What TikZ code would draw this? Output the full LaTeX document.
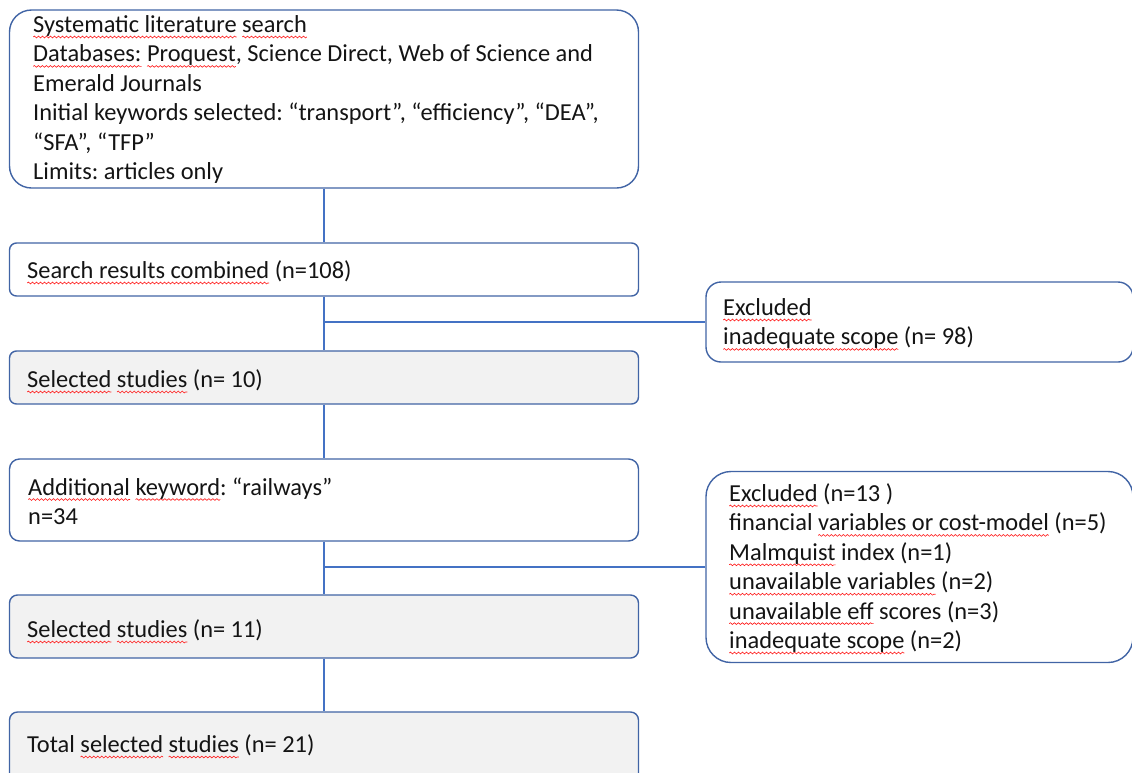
\documentclass[tikz,border=0pt]{standalone}
\usepackage{fontspec}
\setmainfont{Carlito}
\usetikzlibrary{calc,decorations.pathmorphing}
\definecolor{boxline}{RGB}{65,100,165}
\definecolor{connline}{RGB}{68,114,196}
\definecolor{boxgray}{RGB}{242,242,242}
\definecolor{txtcol}{RGB}{20,20,20}
\frenchspacing
\newsavebox\sqbox
\newlength\sqlen
\newcommand\sq[1]{\sbox\sqbox{#1}\setlength\sqlen{\wd\sqbox}%
\rlap{\tikz[baseline=0pt,x=1pt,y=1pt]{\path (0,0); \draw[overlay, red!90!white, line width=0.6pt, decorate, decoration={snake, amplitude=0.9pt, segment length=4pt}] (0,-4.5) -- (\sqlen,-4.5);}}\usebox\sqbox}
\newcommand\lns[1]{\begin{tabular}[t]{@{}l@{}}#1\end{tabular}}
\begin{document}
\begin{tikzpicture}[x=1pt,y=-1pt,
  box/.style={draw=boxline, line width=1.4pt, rectangle, inner sep=0pt, fill=white},
  graybox/.style={box, fill=boxgray},
  txtnode/.style={anchor=base west, inner sep=0pt, text=txtcol, font=\fontsize{24.4}{29.4}\selectfont},
  conn/.style={draw=connline, line width=1.3pt}]
\clip (0,0) rectangle (1132,772);
\useasboundingbox (0,0) rectangle (1132,772);
% boxes
\node[box, minimum width=629pt, minimum height=178pt, rounded corners=22pt] (b1) at (324,99) {};
\node[box, minimum width=629pt, minimum height=53pt, rounded corners=7pt] (b2) at (324,269.5) {};
\node[graybox, minimum width=629pt, minimum height=53pt, rounded corners=7pt] (b3) at (324,377.5) {};
\node[box, minimum width=629pt, minimum height=82pt, rounded corners=10pt] (b4) at (324,500) {};
\node[graybox, minimum width=629pt, minimum height=63pt, rounded corners=8pt] (b5) at (324,626.5) {};
\node[graybox, minimum width=629pt, minimum height=88pt, rounded corners=8pt] (b6) at (324,756) {};
\node[box, minimum width=427pt, minimum height=80pt, rounded corners=15pt] (ex1) at (919.5,322) {};
\node[box, minimum width=427pt, minimum height=191pt, rounded corners=25pt] (ex2) at (919.5,567) {};
% connectors
\draw[conn] (b1.south) -- (b2.north);
\draw[conn] (b2.south) -- (b3.north);
\draw[conn] (b3.south) -- (b4.north);
\draw[conn] (b4.south) -- (b5.north);
\draw[conn] (b5.south) -- (b6.north);
\coordinate (j1) at (b2.south |- ex1.west);
\coordinate (j2) at (b4.south |- ex2.west);
\draw[conn] (j1) -- (ex1.west);
\draw[conn] (j2) -- (ex2.west);
% texts
\node[txtnode] (t1) at (33,32.5) {\lns{\sq{Systematic literature} \sq{search}\\
\sq{Databases:} \sq{Proquest}, Science Direct, Web of Science and\\
Emerald Journals\\
Initial keywords selected: “transport”, “efficiency”, “DEA”,\\
“SFA”, “TFP”\\
Limits: articles only}};
\node[txtnode] (t2) at (27,278.5) {\sq{Search results combined} (n=108)};
\node[txtnode] (t3) at (27,387.5) {\sq{Selected} \sq{studies} (n= 10)};
\node[txtnode] (t4) at (28,495) {\lns{\sq{Additional} \sq{keyword}: “railways”\\ n=34}};
\node[txtnode] (t5) at (27,637.5) {\sq{Selected} \sq{studies} (n= 11)};
\node[txtnode] (t6) at (27,752.5) {Total \sq{selected} \sq{studies} (n= 21)};
\node[txtnode] (e1) at (723,315.5) {\lns{\sq{Excluded}\\ \sq{inadequate scope} (n= 98)}};
\node[txtnode] (e2) at (729,501.5) {\lns{\sq{Excluded} (n=13 )\\
financial \sq{variables or cost-model} (n=5)\\
\sq{Malmquist} index (n=1)\\
\sq{unavailable variables} (n=2)\\
\sq{unavailable eff} scores (n=3)\\
\sq{inadequate scope} (n=2)}};
\end{tikzpicture}
\end{document}
